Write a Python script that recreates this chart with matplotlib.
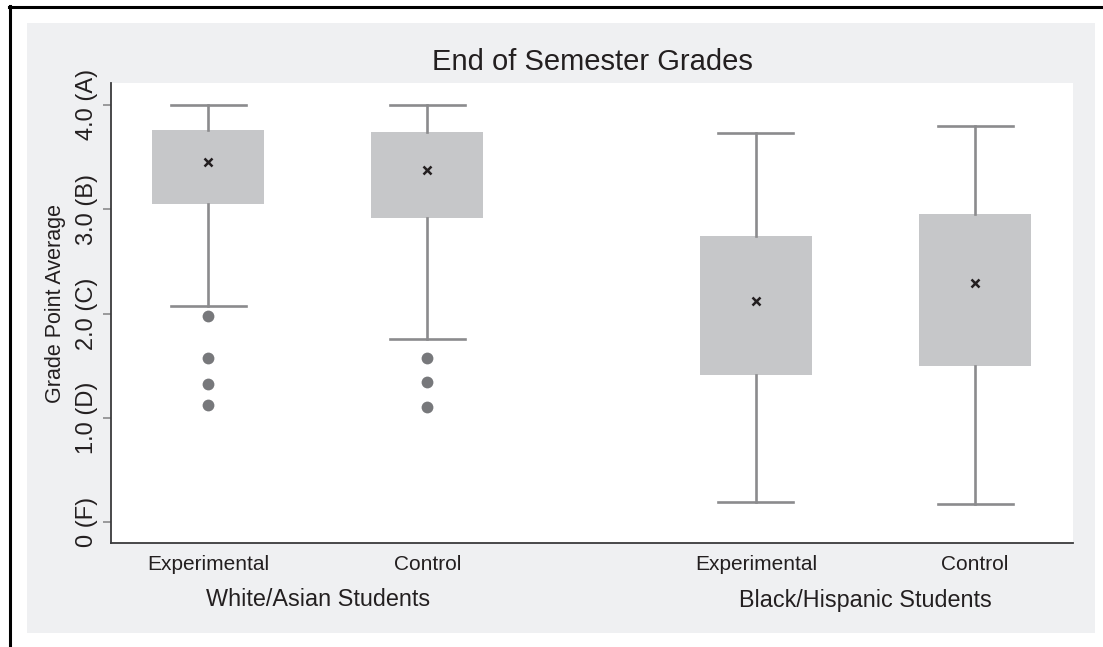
import matplotlib
matplotlib.use("Agg")
import matplotlib.pyplot as plt
from matplotlib.patches import Rectangle
from matplotlib.lines import Line2D

plt.rcParams['font.family'] = ['Liberation Sans', 'DejaVu Sans']

# Summary statistics per group (GPA scale 0-4)
conditions = ["Experimental", "Control", "Experimental", "Control"]
groups = ["White/Asian Students", "Black/Hispanic Students"]
q1 = [3.05, 2.92, 1.41, 1.495]
q3 = [3.76, 3.74, 2.74, 2.95]
whisker_low = [2.07, 1.755, 0.195, 0.17]
whisker_high = [4.0, 4.0, 3.73, 3.80]
means = [3.45, 3.38, 2.12, 2.29]
outliers = [[1.975, 1.575, 1.32, 1.12], [1.575, 1.34, 1.10], [], []]
ytick_values = [0, 1, 2, 3, 4]
ytick_labels = ["0 (F)", "1.0 (D)", "2.0 (C)", "3.0 (B)", "4.0 (A)"]

positions = [1, 2, 3.5, 4.5]

W, H = 1103, 647
fig = plt.figure(figsize=(W / 100, H / 100), dpi=100)
fig.patch.set_facecolor("white")

# light grey panel behind the plot
fig.patches.append(Rectangle((27 / W, 1 - 633 / H), (1095 - 27) / W, (633 - 23) / H,
                             transform=fig.transFigure, facecolor="#eff0f2",
                             edgecolor="none", zorder=-5))
# black frame lines along top and left
fig.lines.append(Line2D([9 / W, 1], [1 - 7 / H, 1 - 7 / H], transform=fig.transFigure,
                        color="black", lw=2.2, zorder=-4))
fig.lines.append(Line2D([10 / W, 10 / W], [0, 1 - 6 / H], transform=fig.transFigure,
                        color="black", lw=2.2, zorder=-4))

ax = fig.add_axes([111 / W, 1 - 543 / H, (1073 - 111) / W, (543 - 83) / H])
ax.set_facecolor("white")
ax.set_zorder(1)

stats = []
for i in range(len(positions)):
    stats.append(dict(q1=q1[i], q3=q3[i], med=means[i], mean=means[i],
                      whislo=whisker_low[i], whishi=whisker_high[i],
                      fliers=outliers[i]))

line_col = "#8b8b8d"
ax.bxp(stats, positions=positions, widths=0.51, patch_artist=True,
       showmeans=True, showfliers=True, showcaps=True,
       boxprops=dict(facecolor="#c6c7c9", edgecolor="none", linewidth=0),
       medianprops=dict(linewidth=0, color="none"),
       whiskerprops=dict(color=line_col, linewidth=1.9),
       capprops=dict(color=line_col, linewidth=1.9),
       capwidths=0.342,
       meanprops=dict(marker="x", markeredgecolor="#231f20", markersize=6,
                      markeredgewidth=1.8, linestyle="none"),
       flierprops=dict(marker="o", markerfacecolor="#77787b", markeredgecolor="none",
                       markersize=8.5, linestyle="none"))

ax.set_xlim(0.557, 4.947)
ax.set_ylim(-0.2, 4.21)

ax.set_yticks(ytick_values)
ax.set_yticklabels(ytick_labels, rotation=90, va="center", fontsize=17,
                   color="#231f20")
ax.tick_params(axis="y", length=6, width=1.2, color="#8b8b8d", pad=3)
ax.set_xticks(positions)
ax.set_xticklabels(conditions, fontsize=15, color="#231f20")
ax.tick_params(axis="x", length=0, pad=9)

for side in ["top", "right"]:
    ax.spines[side].set_visible(False)
for side in ["left", "bottom"]:
    ax.spines[side].set_color("#3a3a3c")
    ax.spines[side].set_linewidth(1.3)

ax.set_ylabel("Grade Point Average", fontsize=15.5, color="#231f20")
ax.yaxis.set_label_coords(-0.047, 0.52)

# group labels under each pair
for g, (a, b) in zip(groups, [(positions[0], positions[1]), (positions[2], positions[3])]):
    xc = ax.transData.transform(((a + b) / 2, 0))[0] / W
    fig.text(xc, 1 - 600 / H, g, ha="center", va="center", fontsize=16.8, color="#231f20")

fig.text(592 / W, 1 - 62 / H, "End of Semester Grades", ha="center", va="center",
         fontsize=21, color="#231f20")

fig.savefig("out.png", dpi=100)
